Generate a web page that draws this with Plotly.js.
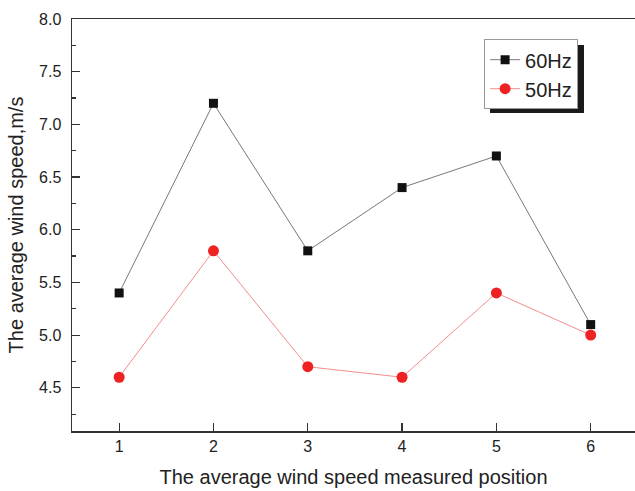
<!DOCTYPE html>
<html><head><meta charset="utf-8">
<script src="https://cdn.plot.ly/plotly-3.0.1.min.js"></script>
<style>html,body{margin:0;padding:0;background:#fff}#chart{width:635px;height:491px}</style>
</head><body><div id="chart"></div>
<script>
const positions = [1, 2, 3, 4, 5, 6];
const speed60Hz = [5.4, 7.2, 5.8, 6.4, 6.7, 5.1];
const speed50Hz = [4.6, 5.8, 4.7, 4.6, 5.4, 5.0];
const seriesNames = ['60Hz', '50Hz'];

const traces = [
  {x: positions, y: speed60Hz, name: seriesNames[0], type: 'scatter', mode: 'lines+markers',
   line: {color: '#555555', width: 0.8}, marker: {symbol: 'square', size: 9, color: '#111111'}},
  {x: positions, y: speed50Hz, name: seriesNames[1], type: 'scatter', mode: 'lines+markers',
   line: {color: '#f07070', width: 0.8}, marker: {symbol: 'circle', size: 11, color: '#ee2222'}}
];
const font = {family: 'Liberation Sans, Arial, sans-serif', color: '#222'};
const layout = {
  width: 635, height: 491,
  margin: {l: 72, r: 0, t: 19, b: 60},
  paper_bgcolor: '#fff', plot_bgcolor: '#fff',
  font: font,
  showlegend: true,
  legend: {x: 0.732, y: 0.951, xanchor: 'left', yanchor: 'top', bgcolor: '#fff',
    bordercolor: '#999', borderwidth: 1, font: {size: 20, family: font.family, color: '#222'},
    tracegroupgap: 0},
  xaxis: {range: [0.5, 6.47], tickvals: positions, ticks: 'inside', ticklen: 8, tickwidth: 1.2,
    tickcolor: '#333', showline: true, linecolor: '#333', linewidth: 1.5, mirror: true,
    showgrid: false, zeroline: false, tickfont: {size: 16, family: font.family, color: '#222'},
    title: {text: 'The average wind speed measured position', font: {size: 20, family: font.family, color: '#222'}, standoff: 16}},
  yaxis: {range: [4.09, 8.0], dtick: 0.5, tick0: 4.5, tickformat: '.1f', ticks: 'inside', ticklen: 8,
    tickwidth: 1.2, tickcolor: '#333', showline: true, linecolor: '#333', linewidth: 1.5, mirror: true,
    showgrid: false, zeroline: false, ticklabelstandoff: 6, tickfont: {size: 16, family: font.family, color: '#222'},
    minor: {dtick: 0.25, ticks: 'inside', ticklen: 4, tickcolor: '#333', showgrid: false},
    title: {text: 'The average wind speed,m/s', font: {size: 20, family: font.family, color: '#222'}, standoff: 10}},
  shapes: [{type: 'rect', xref: 'paper', yref: 'paper', x0: 0.7425, x1: 0.9094, y0: 0.772, y1: 0.9369,
    fillcolor: '#1a1a1a', line: {width: 0}, layer: 'above'}]
};
Plotly.newPlot('chart', traces, layout, {displayModeBar: false, staticPlot: true});
</script></body></html>
